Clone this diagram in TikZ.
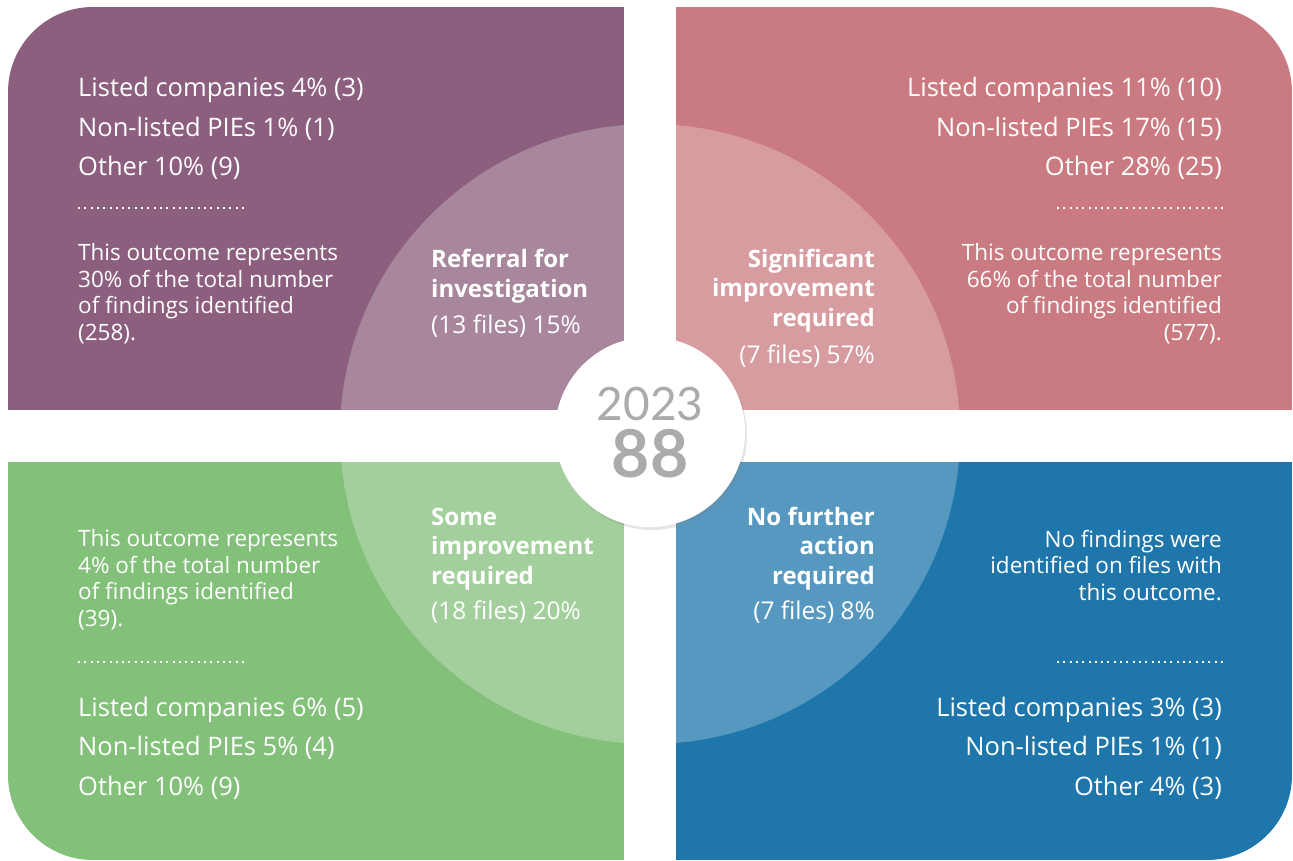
\documentclass[tikz,border=0pt]{standalone}
\usepackage{fontspec}
\setmainfont{Open Sans}
\newfontfamily\yearfont{Lato}
\usetikzlibrary{positioning, shadows}
\definecolor{refpurple}{HTML}{8B5F7D}
\definecolor{sigpink}{HTML}{C97B81}
\definecolor{somegreen}{HTML}{83C07A}
\definecolor{nfablue}{HTML}{1E76AB}
\definecolor{yeargray}{HTML}{ABABAB}
\tikzstyle{listtxt} = [text=white, inner sep=0pt, font=\fontsize{25.5}{39.5}\selectfont]
\tikzstyle{paratxt} = [text=white, inner sep=0pt, font=\fontsize{22.5}{26.4}\selectfont]
\tikzstyle{titletxt} = [text=white, inner sep=0pt, font=\fontsize{24}{29.5}\selectfont\bfseries]
\tikzstyle{pcttxt} = [text=white, inner sep=0pt, font=\fontsize{24.5}{29.5}\selectfont]
\tikzstyle{dots} = [white, line width=2pt, dash pattern=on 2pt off 4.3pt]

\begin{document}
\begin{tikzpicture}[x=1pt, y=-1pt]
    \useasboundingbox (0,0) rectangle (1293,861);
    % four quadrants and the big circle
    \begin{scope}
        \clip [rounded corners=85pt] (8,7) rectangle (1292,860);
        \fill [refpurple] (8,7) rectangle (624,410);
        \fill [sigpink] (676,7) rectangle (1292,410);
        \fill [somegreen] (8,462) rectangle (624,860);
        \fill [nfablue] (676,462) rectangle (1292,860);
        \fill [white, opacity=0.25] (650,434) circle (310);
        \fill [white] (624,0) rectangle (676,861);
        \fill [white] (0,410) rectangle (1293,462);
    \end{scope}
    \node [circle, fill=white, minimum size=190pt, inner sep=0pt,
        drop shadow={opacity=0.2, shadow xshift=2pt, shadow yshift=-3pt}] (hub) at (650,432) {};
    \node [anchor=base, text=yeargray, inner sep=0pt, font=\yearfont\fontsize{46}{46}\selectfont] (year) at (650,420) {2023};
    \node [anchor=base, text=yeargray, inner sep=0pt, font=\yearfont\fontsize{66}{66}\selectfont\bfseries] (total) at (650,477) {88};

    % referral for investigation
    \node [listtxt, align=left, anchor=base west] (reflist) at (78,176)
        {Listed companies 4\% (3)\\Non-listed PIEs 1\% (1)\\Other 10\% (9)};
    \coordinate (refdotA) at (78,208);
    \coordinate (refdotB) at (244,208);
    \draw [dots] (refdotA) -- (refdotB);
    \node [paratxt, align=left, anchor=base west] (refpara) at (78,340)
        {This outcome represents\\30\% of the total number\\of findings identified\\(258).};
    \node [titletxt, align=left, anchor=base west] (reftitle) at (431,297) {Referral for\\investigation};
    \node [pcttxt, anchor=base west] (refpct) at (431,333) {(13 files) 15\%};

    % significant improvement required
    \node [listtxt, align=right, anchor=base east] (siglist) at (1222,176)
        {Listed companies 11\% (10)\\Non-listed PIEs 17\% (15)\\Other 28\% (25)};
    \coordinate (sigdotA) at (1057,208);
    \coordinate (sigdotB) at (1223,208);
    \draw [dots] (sigdotA) -- (sigdotB);
    \node [paratxt, align=right, anchor=base east] (sigpara) at (1222,340)
        {This outcome represents\\66\% of the total number\\of findings identified\\(577).};
    \node [titletxt, align=right, anchor=base east] (sigtitle) at (875,326) {Significant\\improvement\\required};
    \node [pcttxt, anchor=base east] (sigpct) at (875,363) {(7 files) 57\%};

    % some improvement required
    \node [paratxt, align=left, anchor=base west] (somepara) at (78,626)
        {This outcome represents\\4\% of the total number\\of findings identified\\(39).};
    \coordinate (somedotA) at (78,662);
    \coordinate (somedotB) at (244,662);
    \draw [dots] (somedotA) -- (somedotB);
    \node [listtxt, align=left, anchor=base west] (somelist) at (78,795)
        {Listed companies 6\% (5)\\Non-listed PIEs 5\% (4)\\Other 10\% (9)};
    \node [titletxt, align=left, anchor=base west] (sometitle) at (431,584) {Some\\improvement\\required};
    \node [pcttxt, anchor=base west] (somepct) at (431,619) {(18 files) 20\%};

    % no further action required
    \node [paratxt, align=right, anchor=base east] (nfapara) at (1222,600)
        {No findings were\\identified on files with\\this outcome.};
    \coordinate (nfadotA) at (1057,662);
    \coordinate (nfadotB) at (1223,662);
    \draw [dots] (nfadotA) -- (nfadotB);
    \node [listtxt, align=right, anchor=base east] (nfalist) at (1222,795)
        {Listed companies 3\% (3)\\Non-listed PIEs 1\% (1)\\Other 4\% (3)};
    \node [titletxt, align=right, anchor=base east] (nfatitle) at (875,584) {No further\\action\\required};
    \node [pcttxt, anchor=base east] (nfapct) at (875,619) {(7 files) 8\%};
\end{tikzpicture}
\end{document}
